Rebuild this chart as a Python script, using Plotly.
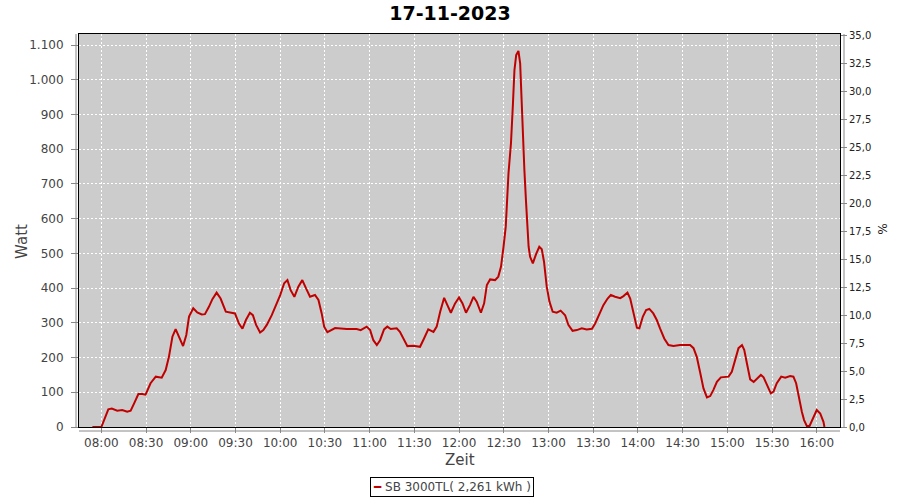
import plotly.graph_objects as go

DAY = "2023-11-17 "
times = ["07:54:00","08:00:00","08:04:40","08:07:00","08:10:40","08:14:00","08:17:20","08:19:40","08:22:00","08:24:50",
"08:27:30","08:29:40","08:33:00","08:36:30","08:40:30","08:43:10","08:45:20","08:47:40","08:49:50","08:52:00",
"08:54:50","08:57:00","08:58:50","09:01:40","09:04:20","09:07:20","09:09:30","09:12:10","09:14:30","09:17:20",
"09:20:00","09:23:30","09:26:50","09:29:40","09:32:20","09:34:40","09:37:00","09:39:40","09:41:40","09:43:50",
"09:46:30","09:48:40","09:51:00","09:54:20","09:57:40","10:00:00","10:02:40","10:04:50","10:07:00","10:09:30",
"10:12:10","10:14:50","10:17:20","10:20:00","10:23:20","10:25:40","10:27:50","10:29:30","10:31:40","10:36:50",
"10:44:40","10:51:20","10:54:00","10:58:00","11:00:20","11:02:30","11:04:50","11:07:00","11:09:40","11:11:50",
"11:14:10","11:18:10","11:20:20","11:22:40","11:25:20","11:29:20","11:33:50","11:36:30","11:39:20","11:42:50",
"11:45:00","11:47:20","11:50:00","11:52:10","11:54:30","11:57:20","12:00:00","12:02:20","12:04:40","12:07:20",
"12:09:40","12:11:50","12:14:40","12:16:50","12:18:40","12:20:50","12:24:10","12:26:20","12:28:10","12:29:50",
"12:31:20","12:33:10","12:34:50","12:36:10","12:37:10","12:38:20","12:39:50","12:41:00","12:41:50","12:42:50",
"12:43:50","12:45:00","12:46:10","12:46:40","12:47:40","12:49:30","12:51:40","12:53:50","12:55:30","12:57:00",
"12:58:50","13:00:40","13:02:50","13:05:30","13:08:10","13:11:10","13:13:20","13:16:10","13:19:00","13:22:20",
"13:25:40","13:29:10","13:31:20","13:34:00","13:36:50","13:39:40","13:41:50","13:44:40","13:48:10","13:50:20",
"13:53:00","13:54:50","13:57:00","13:59:20","14:01:00","14:03:20","14:05:30","14:07:40","14:10:20","14:12:40",
"14:14:50","14:17:40","14:20:30","14:23:50","14:28:20","14:35:00","14:37:20","14:39:30","14:41:40","14:44:00",
"14:46:20","14:48:30","14:50:40","14:53:00","14:55:40","14:58:40","15:00:50","15:03:00","15:05:20","15:07:30",
"15:09:50","15:11:20","15:13:10","15:15:20","15:17:40","15:20:20","15:22:30","15:24:20","15:26:40","15:29:10",
"15:31:00","15:33:10","15:36:10","15:38:50","15:42:10","15:44:20","15:46:10","15:47:40","15:50:00","15:51:30",
"15:53:20","15:55:10","15:57:20","16:00:00","16:02:20","16:04:30","16:05:10"]
watt = [0,0,51,53,47,49,44,47,68,95,
95,93,126,145,142,164,202,260,282,260,
233,265,318,342,330,324,325,346,368,387,
370,332,330,327,298,283,308,329,322,294,
272,279,294,322,356,380,414,423,394,375,
404,423,399,375,380,366,327,289,273,285,
282,282,279,289,279,250,236,250,281,289,
282,284,274,255,233,234,231,255,281,274,
289,332,372,351,329,356,373,356,329,351,
375,361,329,356,409,425,423,433,462,519,
577,730,817,932,1028,1071,1083,1047,951,855,
740,644,572,519,490,471,498,519,512,476,
404,361,332,329,335,322,294,277,279,284,
281,283,298,322,351,370,380,375,371,377,
387,370,327,286,284,318,337,340,327,308,
284,255,236,233,236,236,227,202,159,111,
85,89,107,130,143,143,145,159,193,227,
236,222,183,137,130,140,150,143,121,97,
102,126,145,142,147,145,126,92,44,20,
3,3,25,49,39,15,0]

series_name = "SB 3000TL( 2,261 kWh )"
title_text = "17-11-2023"
x_title = "Zeit"
y_title = "Watt"
y2_title = "%"
x_range = ["07:45:00", "16:15:36"]
y_left_range = [0, 1131.7]
y_right_range = [0, 35.09]
line_color = "#c00000"

fig = go.Figure()
fig.add_trace(go.Scatter(
    x=[DAY + t for t in times], y=watt, mode="lines", name=series_name,
    line=dict(color=line_color, width=2), hoverinfo="skip", showlegend=False))
fig.add_trace(go.Scatter(x=[None], y=[None], yaxis="y2", showlegend=False, hoverinfo="skip"))

axfont = dict(family="DejaVu Sans", size=12, color="#444444")
fig.update_layout(
    width=900, height=500,
    margin=dict(l=79, r=60, t=34, b=73, autoexpand=False),
    paper_bgcolor="white", plot_bgcolor="#cccccc",
    separators=",.",
    font=dict(family="DejaVu Sans", size=12, color="#444444"),
    title=dict(text="<b>" + title_text + "</b>", x=0.5, xanchor="center",
               yref="container", y=0.974, yanchor="middle",
               font=dict(family="DejaVu Sans", size=19, color="#000000")),
    xaxis=dict(type="date", range=[DAY + x_range[0], DAY + x_range[1]],
               tick0=DAY + "08:00:00", dtick=1800000, tickformat="%H:%M",
               showgrid=True, gridcolor="white", griddash="2px,2px", gridwidth=1,
               showline=True, linecolor="black", linewidth=1, mirror=True,
               ticks="outside", ticklen=5, tickcolor="#888888", tickfont=axfont,
               zeroline=False, fixedrange=True, automargin=False),
    yaxis=dict(range=y_left_range, dtick=100, tick0=0, tickformat=",d",
               showgrid=True, gridcolor="white", griddash="2px,2px", gridwidth=1,
               showline=True, linecolor="black", linewidth=1, mirror=True,
               ticks="outside", ticklen=7, tickcolor="#888888", tickfont=axfont,
               ticklabelstandoff=5,
               zeroline=False, fixedrange=True, automargin=False),
    yaxis2=dict(overlaying="y", side="right", range=y_right_range, dtick=2.5, tick0=0, tickformat=".1f",
                showgrid=False, zeroline=False, showline=False,
                ticks="outside", ticklen=6, tickcolor="#888888",
                tickfont=dict(family="DejaVu Sans", size=10, color="#222222"),
                fixedrange=True, automargin=False),
    showlegend=False,
    annotations=[
        dict(text=y_title, xref="paper", yref="paper", x=-0.0749, y=0.471, showarrow=False,
             textangle=-90, xanchor="center", yanchor="middle",
             font=dict(family="DejaVu Sans", size=15, color="#444444")),
        dict(text=x_title, xref="paper", yref="paper", x=0.5, y=-0.084, showarrow=False,
             xanchor="center", yanchor="middle",
             font=dict(family="DejaVu Sans", size=15, color="#444444")),
        dict(text=y2_title, xref="paper", yref="paper", x=1.0552, y=0.506, showarrow=False,
             textangle=90, xanchor="center", yanchor="middle",
             font=dict(family="DejaVu Sans", size=12, color="#222222")),
        dict(text="<span style='color:" + line_color + "'><b>━</b></span> " + series_name,
             xref="paper", yref="paper", x=0.4896, y=-0.1527, showarrow=False,
             xanchor="center", yanchor="middle", bordercolor="black", borderwidth=1,
             borderpad=2, bgcolor="white",
             font=dict(family="DejaVu Sans", size=12, color="#444444")),
    ],
)
gray = dict(color="#888888", width=1)
fig.add_shape(type="line", xref="paper", yref="paper", xsizemode="pixel", xanchor=0,
              x0=-3, x1=-3, y0=0, y1=1, line=gray)
fig.add_shape(type="line", xref="paper", yref="paper", xsizemode="pixel", xanchor=1,
              x0=4, x1=4, y0=0, y1=1, line=gray)
fig.add_shape(type="line", xref="paper", yref="paper", ysizemode="pixel", yanchor=0,
              y0=-4, y1=-4, x0=0, x1=1, line=gray)

fig.write_html("out.html", config={"displayModeBar": False},
               post_script="document.body.style.margin='0';")
